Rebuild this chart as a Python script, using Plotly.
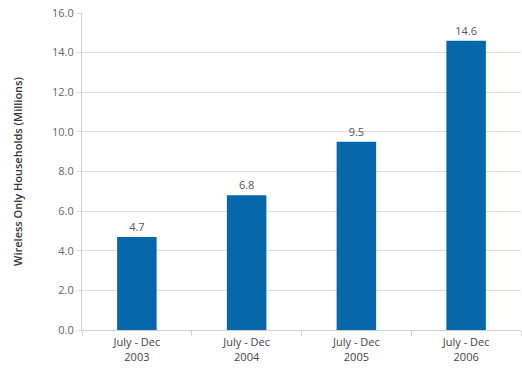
import plotly.graph_objects as go

categories = ["July - Dec<br>2003", "July - Dec<br>2004", "July - Dec<br>2005", "July - Dec<br>2006"]
values = [4.7, 6.8, 9.5, 14.6]
value_labels = ["4.7", "6.8", "9.5", "14.6"]
y_ticks = [0, 2, 4, 6, 8, 10, 12, 14, 16]

fig = go.Figure(go.Bar(
    x=categories, y=values,
    marker=dict(color="#0767ab", line=dict(width=0)),
    text=value_labels, textposition="outside",
    textfont=dict(color="#555555", size=11, family="Open Sans"),
    cliponaxis=False,
))

fig.update_layout(
    width=522, height=370,
    margin=dict(l=82, r=1, t=13, b=40, autoexpand=False),
    paper_bgcolor="white", plot_bgcolor="white",
    bargap=0.64,
    showlegend=False,
    font=dict(family="Open Sans", size=11, color="#555555"),
)
fig.update_xaxes(
    automargin=False,
    showline=True, linecolor="#cfcfd6", linewidth=1,
    ticks="outside", tickson="boundaries", ticklen=5, tickcolor="#cfcfd6",
    tickfont=dict(size=11, color="#444444"),
    ticklabelstandoff=2,
    showgrid=False,
)
fig.update_yaxes(
    automargin=False,
    range=[0, 16], tickvals=y_ticks, tickformat=".1f",
    showline=True, linecolor="#cfcfd6", linewidth=1,
    showgrid=True, gridcolor="#dedede", gridwidth=1,
    ticks="outside", ticklen=5, tickcolor="#dedede",
    tickfont=dict(size=11, color="#666666"),
    zeroline=False,
    title=dict(text="Wireless Only Households (Millions)", standoff=27,
               font=dict(size=11, color="#333333", family="Open Sans", weight=600)),
)
fig.write_html("out.html",
               config={"displayModeBar": False},
               post_script="document.body.style.margin='0';document.body.style.overflow='hidden';")
